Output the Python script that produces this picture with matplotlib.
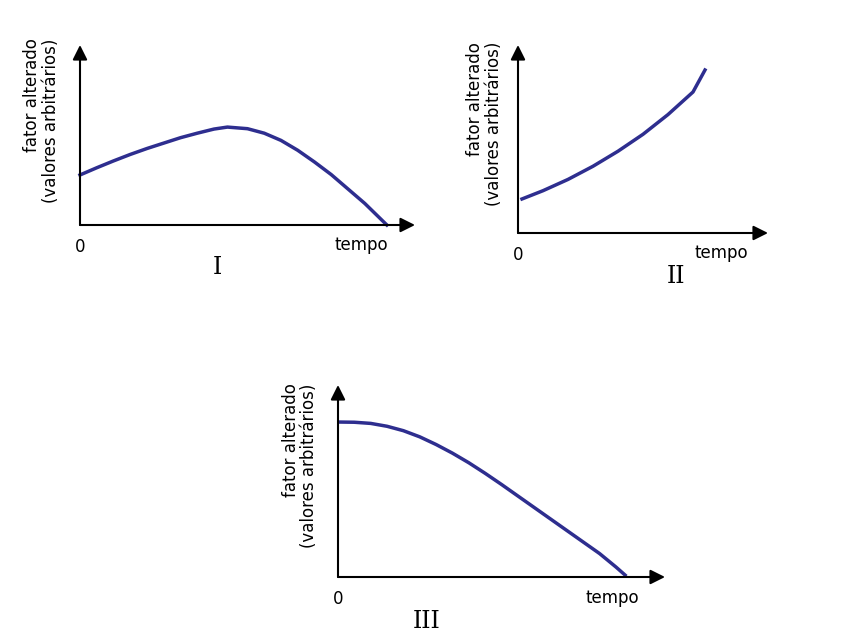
import matplotlib.pyplot as plt

# curve values, each axis scaled 0..10 along its full arrow length
x1 = [0, 0.5, 1, 1.5, 2, 2.5, 3, 3.5, 4, 4.4, 5, 5.5, 6, 6.5, 7, 7.5, 8, 8.5, 9.16]
y1 = [2.78, 3.18, 3.56, 3.92, 4.25, 4.55, 4.85, 5.1, 5.33, 5.44, 5.35, 5.1,
      4.7, 4.15, 3.5, 2.8, 2.0, 1.2, 0]
x2 = [0.16, 1, 2, 3, 4, 5, 6, 7, 7.48]
y2 = [1.81, 2.25, 2.85, 3.55, 4.35, 5.25, 6.3, 7.5, 8.67]
x3 = [0.06, 0.5, 1, 1.5, 2, 2.5, 3, 3.5, 4, 4.5, 5, 5.5, 6, 6.5, 7, 7.5, 8, 8.5, 8.78]
y3 = [8.07, 8.06, 8.0, 7.85, 7.62, 7.3, 6.9, 6.45, 5.95, 5.4, 4.82, 4.22,
      3.62, 3.02, 2.42, 1.82, 1.22, 0.52, 0.1]
labels = ["I", "II", "III"]
ylabel = "fator alterado\n(valores arbitrários)"

W, H = 850, 642
fig = plt.figure(figsize=(8.5, 6.42), dpi=100)
fig.patch.set_facecolor('white')

# (origin x px, origin y px, width px, height px, numeral x fraction)
panels = [(80, 225, 335, 180, 0.41), (518, 233, 250, 188, 0.63),
          (338, 577, 327, 192, 0.27)]
curves = [(x1, y1), (x2, y2), (x3, y3)]

for (ox, oy, w, h, lx), (xs, ys), lab in zip(panels, curves, labels):
    ax = fig.add_axes([ox / W, (H - oy) / H, w / W, h / H])
    ax.set_xlim(0, 10)
    ax.set_ylim(0, 10)
    ax.axis('off')
    ax.plot(xs, ys, color='#2e2e8f', lw=2.5, clip_on=False,
            solid_joinstyle='round')
    arrow = dict(arrowstyle='-|>', color='black', lw=1.5, mutation_scale=22,
                 shrinkA=0, shrinkB=0)
    ax.annotate('', xy=(1, 0), xytext=(0, 0), xycoords='axes fraction',
                arrowprops=arrow)
    ax.annotate('', xy=(0, 1), xytext=(0, 0), xycoords='axes fraction',
                arrowprops=arrow)
    ax.text(0, -0.07, '0', transform=ax.transAxes, ha='center', va='top',
            fontsize=12)
    ax.text(0.92, -0.06, 'tempo', transform=ax.transAxes, ha='right', va='top',
            fontsize=12)
    ax.text(lx, -0.17, lab, transform=ax.transAxes, ha='center', va='top',
            fontsize=17, family='DejaVu Serif')
    ax.text(-0.06, 0.58, ylabel, transform=ax.transAxes, ha='right',
            va='center', rotation=90, fontsize=12, linespacing=1.05)

fig.savefig('out.png', dpi=100)
